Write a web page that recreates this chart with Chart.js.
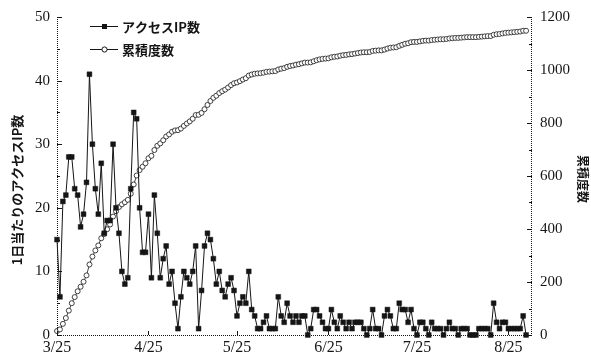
<!DOCTYPE html>
<html>
<head>
<meta charset="utf-8">
<script src="https://cdn.jsdelivr.net/npm/chart.js@4.4.1/dist/chart.umd.min.js"></script>
<style>
	html, body { margin: 0; padding: 0; background: #fff; }
	#chart { display: block; }
</style>
</head>
<body>
<canvas id="chart" width="591" height="360"></canvas>
<script>
// days counted from 3/25
var tickDays = [0, 31, 61, 92, 122, 153];
var tickLabels = ['3/25', '4/25', '5/25', '6/25', '7/25', '8/25'];

// one value per day, starting 3/25
var dailyIpCounts = [
	15, 6, 21, 22, 28, 28, 23, 22, 17, 19, 24, 41, 30, 23, 19, 27, 16, 18, 18, 30, 20, 16, 10, 8, 9, 23, 35, 34, 20, 13, 13, 19, 9,
	22, 16, 9, 12, 14, 8, 10, 5, 1, 6, 10, 9, 8, 10, 14, 1, 7, 14, 16, 15, 12, 8, 10, 7, 6, 8, 9, 7, 3, 5, 6,
	5, 10, 4, 3, 1, 1, 2, 3, 1, 1, 1, 6, 3, 2, 5, 3,
	2, 3, 2, 3, 3, 0, 1, 4, 4, 3, 2, 1, 1, 4, 2, 1, 3,
	2, 1, 2, 1, 2, 2, 2, 1, 0, 1, 4, 1, 1, 0, 3, 4, 3, 1, 1, 5, 4, 4, 2, 4, 1, 0, 2, 2, 1, 0, 2, 1, 1, 1,
	0, 1, 2, 1, 1, 0, 1, 1, 1, 0, 0, 0, 1, 1, 1, 1, 0, 5, 2, 1, 2, 2, 1, 1, 1, 1, 1, 3, 0
];

var cumulativeCounts = [
	15, 21, 42, 64, 92, 120, 143, 165, 182, 201, 225, 266, 296, 319, 338, 365, 381, 399, 417, 447, 467, 483, 493, 501, 510, 533, 568, 602, 622, 635, 648, 667, 676,
	698, 714, 723, 735, 749, 757, 767, 772, 773, 779, 789, 798, 806, 816, 830, 831, 838, 852, 868, 883, 895, 903, 913, 920, 926, 934, 943, 950, 953, 958, 964,
	969, 979, 983, 986, 987, 988, 990, 993, 994, 995, 996, 1002, 1005, 1007, 1012, 1015,
	1017, 1020, 1022, 1025, 1028, 1028, 1029, 1033, 1037, 1040, 1042, 1043, 1044, 1048, 1050, 1051, 1054,
	1056, 1057, 1059, 1060, 1062, 1064, 1066, 1067, 1067, 1068, 1072, 1073, 1074, 1074, 1077, 1081, 1084, 1085, 1086, 1091, 1095, 1099, 1101, 1105, 1106, 1106, 1108, 1110, 1111, 1111, 1113, 1114, 1115, 1116,
	1116, 1117, 1119, 1120, 1121, 1121, 1122, 1123, 1124, 1124, 1124, 1124, 1125, 1126, 1127, 1128, 1128, 1133, 1135, 1136, 1138, 1140, 1141, 1142, 1143, 1144, 1145, 1148, 1148
];

var legendLabels = ['アクセスIP数', '累積度数'];
var leftTitle = '1日当たりのアクセスIP数';
var rightTitle = '累積度数';

var ink = '#151515';
var serif = '"Liberation Serif", "Times New Roman", serif';
var jpFont = 'bold 13px "Noto Sans CJK JP", "Noto Sans", sans-serif';

// eslint-disable-next-line no-undef
Chart.defaults.font.family = serif;
Chart.defaults.font.size = 15;
Chart.defaults.color = ink;

function toPoints(values) {
	return values.map(function (v, i) {
		return { x: i, y: v };
	});
}

// axis lines, inward tick marks, titles and the legend
var decorations = {
	id: 'decorations',
	afterDraw: function (chart) {
		var ctx = chart.ctx;
		var area = chart.chartArea;
		var xs = chart.scales.x;
		var yl = chart.scales.y;
		var yr = chart.scales.y1;
		var v, p;

		ctx.save();
		ctx.strokeStyle = ink;
		ctx.lineWidth = 1;
		ctx.setLineDash([1, 1]);
		ctx.beginPath();
		ctx.moveTo(area.left + 0.5, area.top);
		ctx.lineTo(area.left + 0.5, area.bottom + 0.5);
		ctx.lineTo(area.right - 0.5, area.bottom + 0.5);
		ctx.lineTo(area.right - 0.5, area.top);
		ctx.stroke();
		ctx.setLineDash([]);

		ctx.beginPath();
		for (v = 0; v <= 50; v += 5) {
			p = Math.round(yl.getPixelForValue(v)) + 0.5;
			ctx.moveTo(area.left, p);
			ctx.lineTo(area.left + (v % 10 === 0 ? 5 : 3), p);
		}
		for (v = 0; v <= 1200; v += 100) {
			p = Math.round(yr.getPixelForValue(v)) + 0.5;
			ctx.moveTo(area.right, p);
			ctx.lineTo(area.right - (v % 200 === 0 ? 5 : 3), p);
		}
		tickDays.forEach(function (d) {
			p = Math.round(xs.getPixelForValue(d)) + 0.5;
			ctx.moveTo(p, area.bottom);
			ctx.lineTo(p, area.bottom - 4);
		});
		ctx.stroke();

		// axis titles
		ctx.fillStyle = ink;
		ctx.font = jpFont;
		ctx.textAlign = 'center';
		ctx.textBaseline = 'middle';
		ctx.save();
		ctx.translate(17, 190);
		ctx.rotate(-Math.PI / 2);
		ctx.fillText(leftTitle, 0, 0);
		ctx.restore();
		ctx.save();
		ctx.font = 'bold 12px "Noto Sans CJK JP", "Noto Sans", sans-serif';
		ctx.translate(583, 179);
		ctx.rotate(Math.PI / 2);
		ctx.fillText(rightTitle, 0, 0);
		ctx.restore();

		// legend
		var rows = [26, 49];
		ctx.textAlign = 'left';
		rows.forEach(function (y, i) {
			ctx.beginPath();
			ctx.lineWidth = 1;
			ctx.moveTo(90, y + 0.5);
			ctx.lineTo(118, y + 0.5);
			ctx.stroke();
			if (i === 0) {
				ctx.fillRect(102, y - 2, 5, 5);
			} else {
				ctx.beginPath();
				ctx.arc(104.5, y + 0.5, 2.6, 0, Math.PI * 2);
				ctx.fillStyle = '#fff';
				ctx.fill();
				ctx.stroke();
				ctx.fillStyle = ink;
			}
			ctx.fillText(legendLabels[i], 122, y + 1);
		});
		ctx.restore();
	}
};

// eslint-disable-next-line no-undef
new Chart(document.getElementById('chart'), {
	type: 'line',
	data: {
		datasets: [{
			label: legendLabels[0],
			data: toPoints(dailyIpCounts),
			yAxisID: 'y',
			borderColor: ink,
			borderWidth: 1,
			pointStyle: 'rect',
			pointRadius: 3.4,
			pointBackgroundColor: ink,
			pointBorderColor: ink,
			pointBorderWidth: 0.5,
			clip: false
		}, {
			label: legendLabels[1],
			data: toPoints(cumulativeCounts),
			yAxisID: 'y1',
			borderColor: ink,
			borderWidth: 0.8,
			pointStyle: 'circle',
			pointRadius: 2.5,
			pointBackgroundColor: '#fff',
			pointBorderColor: ink,
			pointBorderWidth: 0.8,
			clip: false
		}]
	},
	options: {
		responsive: false,
		animation: false,
		devicePixelRatio: 1,
		layout: { padding: { top: 14 } },
		plugins: {
			legend: { display: false },
			tooltip: { enabled: false }
		},
		scales: {
			x: {
				type: 'linear',
				min: 0,
				max: 161,
				grid: { display: false, drawTicks: false },
				border: { display: false },
				afterBuildTicks: function (scale) {
					scale.ticks = tickDays.map(function (d) {
						return { value: d };
					});
				},
				afterFit: function (scale) {
					scale.height = 25;
				},
				ticks: {
					autoSkip: false,
					maxRotation: 0,
					padding: 3,
					color: ink,
					font: { family: serif, size: 16 },
					callback: function (v) {
						return tickLabels[tickDays.indexOf(v)];
					}
				}
			},
			y: {
				position: 'left',
				min: 0,
				max: 50,
				grid: { display: false, drawTicks: false },
				border: { display: false },
				afterFit: function (scale) {
					scale.width = 57;
				},
				ticks: {
					stepSize: 10,
					padding: 7,
					color: ink,
					font: { family: serif, size: 15 },
					callback: function (v) {
						return String(v);
					}
				}
			},
			y1: {
				position: 'right',
				min: 0,
				max: 1200,
				grid: { display: false, drawTicks: false },
				border: { display: false },
				afterFit: function (scale) {
					scale.width = 59;
				},
				ticks: {
					stepSize: 200,
					padding: 8,
					color: ink,
					font: { family: serif, size: 15 },
					callback: function (v) {
						return String(v);
					}
				}
			}
		}
	},
	plugins: [decorations]
});
</script>
</body>
</html>
